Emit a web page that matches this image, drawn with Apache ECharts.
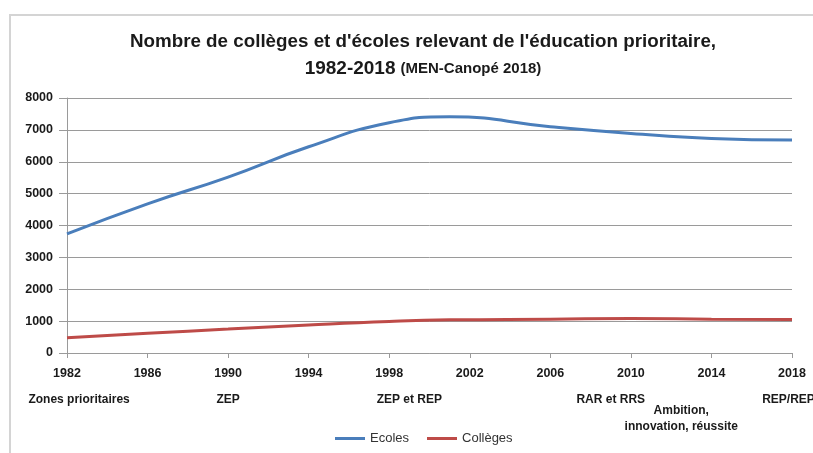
<!DOCTYPE html>
<html>
<head>
<meta charset="utf-8">
<script src="https://cdn.jsdelivr.net/npm/echarts@6/dist/echarts.min.js"></script>
<style>
html,body{margin:0;padding:0;background:#fff;}
#chart{width:813px;height:453px;}
</style>
</head>
<body>
<div id="chart"></div>
<script>
// ---- data ----
const years = [1982, 1986, 1990, 1994, 1998, 2001, 2006, 2010, 2014, 2018];
const ecoles = [3735, 4680, 5520, 6470, 7225, 7410, 7100, 6890, 6730, 6680];
const colleges = [480, 620, 750, 880, 990, 1040, 1060, 1080, 1060, 1050];
const seriesNames = ['Ecoles', 'Collèges'];
const regimeYears = [1982.6, 1990, 1999, 2009, 2018];
const regimeLabels = ['Zones prioritaires', 'ZEP', 'ZEP et REP', 'RAR et RRS', 'REP/REP+'];
const lowerRegimeYears = [2012.5];
const lowerRegimeLabels = ['Ambition,\ninnovation, réussite'];
const titleLine1 = "Nombre de collèges et d'écoles relevant de l'éducation prioritaire,";
const titleLine2a = '1982-2018';
const titleLine2b = '(MEN-Canopé 2018)';

const FONT = 'Liberation Sans, Arial, sans-serif';
const chart = echarts.init(document.getElementById('chart'), null, {renderer: 'canvas'});

function xAxisBase(extra) {
  return Object.assign({
    type: 'value', min: 1982, max: 2018, interval: 4,
    position: 'bottom',
    splitLine: {show: false}
  }, extra);
}

const option = {
  backgroundColor: '#ffffff',
  animation: false,
  title: {
    left: 418,
    top: 23,
    textAlign: 'center',
    text: '{a|' + titleLine1 + '}\n{c|' + titleLine2a + '} {b|' + titleLine2b + '}',
    textStyle: {
      rich: {
        a: {fontFamily: FONT, fontSize: 18.8, fontWeight: 'bold', color: '#1a1a1a', lineHeight: 27},
        c: {fontFamily: FONT, fontSize: 19, fontWeight: 'bold', color: '#1a1a1a', lineHeight: 27},
        b: {fontFamily: FONT, fontSize: 15, fontWeight: 'bold', color: '#1a1a1a', lineHeight: 27}
      }
    }
  },
  graphic: [{
    type: 'rect',
    shape: {x: 10, y: 15, width: 820, height: 460},
    style: {fill: 'none', stroke: '#d4d4d4', lineWidth: 2},
    silent: true
  }],
  legend: {
    bottom: 3,
    left: 330,
    itemWidth: 30,
    itemHeight: 3,
    itemGap: 18,
    icon: 'rect',
    textStyle: {fontFamily: FONT, fontSize: 13, color: '#333'},
    data: seriesNames
  },
  grid: {left: 67, right: 21, top: 98, bottom: 100, containLabel: false, outerBoundsMode: 'none'},
  xAxis: [
    xAxisBase({
      axisLine: {show: true, lineStyle: {color: '#9a9a9a', width: 1}},
      axisTick: {show: true, inside: false, length: 5, lineStyle: {color: '#9a9a9a'}},
      axisLabel: {
        margin: 14, fontFamily: FONT, fontSize: 12.5, fontWeight: 'bold', color: '#1a1a1a',
        formatter: v => String(v)
      }
    }),
    xAxisBase({
      axisLine: {show: false}, axisTick: {show: false},
      axisLabel: {
        customValues: regimeYears,
        margin: 41, fontFamily: FONT, fontSize: 12, fontWeight: 'bold', color: '#1a1a1a',
        formatter: v => regimeLabels[regimeYears.indexOf(v)] || ''
      }
    }),
    xAxisBase({
      axisLine: {show: false}, axisTick: {show: false},
      axisLabel: {
        customValues: lowerRegimeYears,
        margin: 50, lineHeight: 16, fontFamily: FONT, fontSize: 12, fontWeight: 'bold', color: '#1a1a1a',
        formatter: v => lowerRegimeLabels[lowerRegimeYears.indexOf(v)] || ''
      }
    })
  ],
  yAxis: {
    type: 'value', min: 0, max: 8000, interval: 1000,
    axisLine: {show: true, lineStyle: {color: '#9a9a9a'}},
    axisTick: {show: true, length: 8, lineStyle: {color: '#9a9a9a'}},
    splitLine: {show: true, lineStyle: {color: '#9a9a9a', width: 1}},
    axisLabel: {margin: 14, fontFamily: FONT, fontSize: 12.5, fontWeight: 'bold', color: '#1a1a1a',
      formatter: v => String(v)}
  },
  series: [
    {
      name: seriesNames[0], type: 'line', xAxisIndex: 0, smooth: 0.5, showSymbol: false,
      lineStyle: {color: '#4a7ebb', width: 3}, itemStyle: {color: '#4a7ebb'},
      data: years.map((y, i) => [y, ecoles[i]])
    },
    {
      name: seriesNames[1], type: 'line', xAxisIndex: 0, smooth: 0.5, showSymbol: false,
      lineStyle: {color: '#be4b48', width: 3}, itemStyle: {color: '#be4b48'},
      data: years.map((y, i) => [y, colleges[i]])
    }
  ]
};
chart.setOption(option);
</script>
</body>
</html>
